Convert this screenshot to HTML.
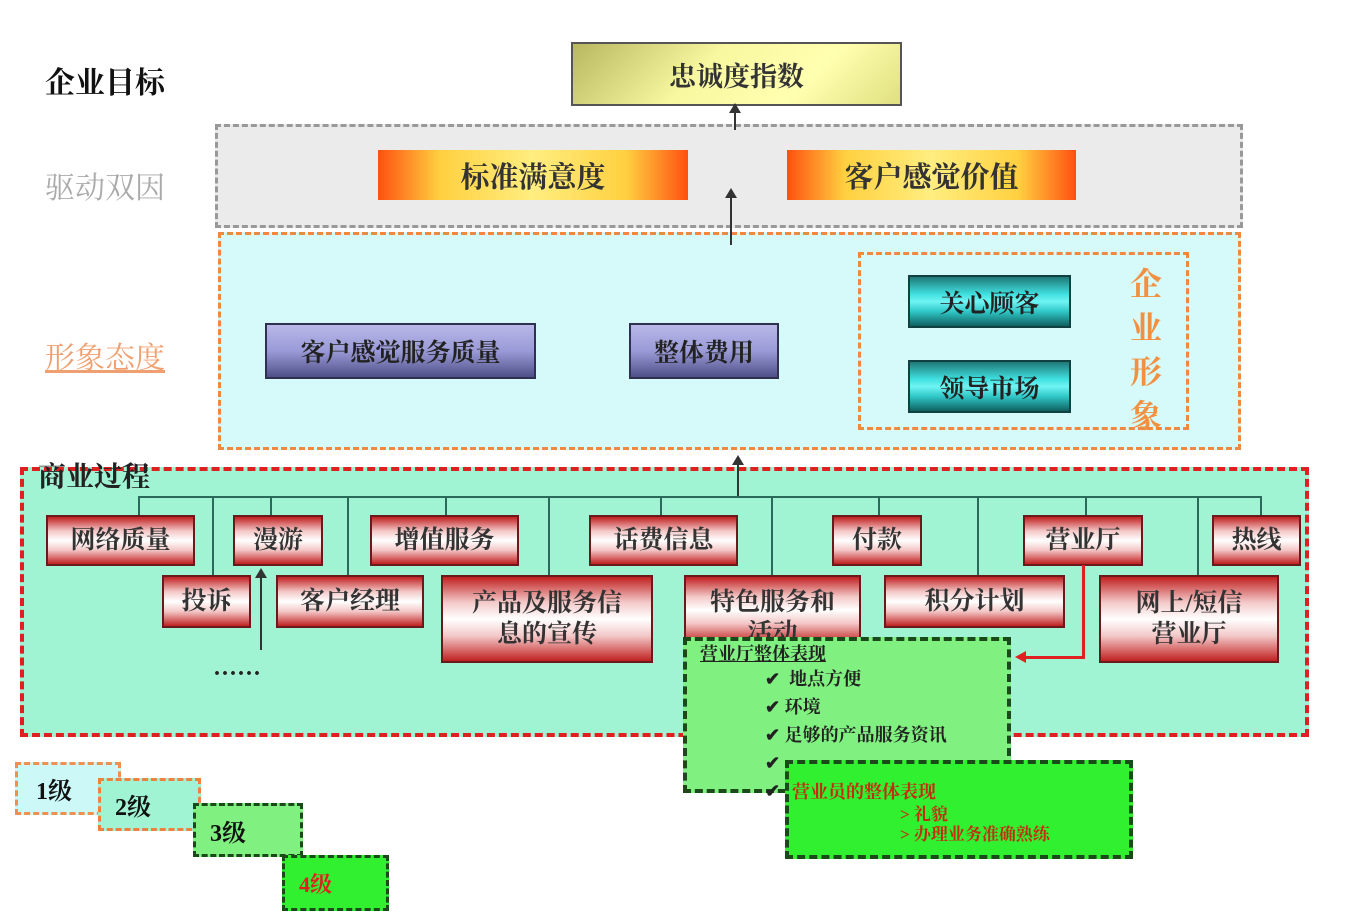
<!DOCTYPE html>
<html><head><meta charset="utf-8"><style>
body{margin:0;width:1351px;height:923px;background:#fff;position:relative;overflow:hidden;font-family:"Liberation Serif","Noto Serif CJK SC",serif}
div{position:absolute;box-sizing:border-box}
.c{display:flex;align-items:center;justify-content:center;text-align:center}
.red{background:linear-gradient(#c02020 0%,#f4c8c8 30%,#fff 50%,#f4c8c8 70%,#c02020 100%);border:2px solid #6a1a1a;font-size:25px;color:#333;font-weight:bold;line-height:1.25}
.teal{background:linear-gradient(#207878,#40e0e0 35%,#70f4f4 50%,#30c8c8 70%,#106060);border:2px solid #104040;font-size:25px;color:#222;font-weight:bold}
.pur{background:linear-gradient(#b8b8e8,#9a9ad8 50%,#505088);border:2px solid #303050;font-size:25px;color:#222;font-weight:bold}
.org{background:linear-gradient(90deg,#ff5010,#ffd040 20%,#ffee80 50%,#ffd040 80%,#ff5010);font-size:29px;color:#333;font-weight:bold}
.lbl{font-size:30px;font-weight:bold}
.v{background:#333;width:2px}
.h{background:#333;height:2px}
</style></head><body>
<div class="lbl" style="left:45px;top:58px;color:#111">企业目标</div>
<div class="lbl" style="left:45px;top:163px;color:#aaa;font-weight:normal">驱动双因</div>
<div class="lbl" style="left:45px;top:333px;color:#f0a070;font-weight:normal;text-decoration:underline">形象态度</div>

<div class="c" style="left:571px;top:42px;width:331px;height:64px;background:linear-gradient(135deg,#b8b860,#f8f8a0 40%,#ffffb0 70%,#e0e080);border:2px solid #555;font-size:27px;font-weight:bold;color:#333">忠诚度指数</div>

<div style="left:215px;top:124px;width:1028px;height:104px;background:#ebebeb;border:3px dashed #999"></div>
<div class="c org" style="left:378px;top:150px;width:310px;height:50px">标准满意度</div>
<div class="c org" style="left:787px;top:150px;width:289px;height:50px">客户感觉价值</div>

<div style="left:218px;top:232px;width:1023px;height:218px;background:#d6fafa;border:3px dashed #f08840"></div>
<div class="c pur" style="left:265px;top:323px;width:271px;height:56px">客户感觉服务质量</div>
<div class="c pur" style="left:629px;top:323px;width:150px;height:56px">整体费用</div>
<div style="left:858px;top:252px;width:331px;height:178px;border:3px dashed #f08840"></div>
<div class="c teal" style="left:908px;top:275px;width:163px;height:53px">关心顾客</div>
<div class="c teal" style="left:908px;top:360px;width:163px;height:53px">领导市场</div>
<div style="left:1130px;top:262px;width:36px;font-size:32px;line-height:44px;color:#f09040;font-weight:bold">企业形象</div>

<div class="v" style="left:734px;top:110px;height:20px"></div>
<div class="v" style="left:730px;top:195px;height:50px"></div>
<div style="left:725px;top:188px;border-left:6px solid transparent;border-right:6px solid transparent;border-bottom:10px solid #333"></div>
<div style="left:729px;top:103px;border-left:6px solid transparent;border-right:6px solid transparent;border-bottom:10px solid #333"></div>

<div style="left:20px;top:467px;width:1289px;height:270px;background:#a0f4d4;border:4px dashed #e02020"></div>
<div class="lbl" style="left:38px;top:455px;color:#222;font-size:28px">商业过程</div>
<div class="v" style="left:737px;top:460px;height:38px"></div>
<div style="left:732px;top:455px;border-left:6px solid transparent;border-right:6px solid transparent;border-bottom:10px solid #333"></div>
<div class="h" style="left:138px;top:496px;width:1123px;background:#2a6a5a"></div>
<div class="v" style="left:138px;top:496px;height:20px;background:#2a6a5a"></div>
<div class="v" style="left:212px;top:496px;height:80px;background:#2a6a5a"></div>
<div class="v" style="left:270px;top:496px;height:20px;background:#2a6a5a"></div>
<div class="v" style="left:347px;top:496px;height:80px;background:#2a6a5a"></div>
<div class="v" style="left:445px;top:496px;height:20px;background:#2a6a5a"></div>
<div class="v" style="left:548px;top:496px;height:80px;background:#2a6a5a"></div>
<div class="v" style="left:660px;top:496px;height:20px;background:#2a6a5a"></div>
<div class="v" style="left:771px;top:496px;height:80px;background:#2a6a5a"></div>
<div class="v" style="left:878px;top:496px;height:20px;background:#2a6a5a"></div>
<div class="v" style="left:977px;top:496px;height:80px;background:#2a6a5a"></div>
<div class="v" style="left:1085px;top:496px;height:20px;background:#2a6a5a"></div>
<div class="v" style="left:1197px;top:496px;height:80px;background:#2a6a5a"></div>
<div class="v" style="left:1260px;top:496px;height:20px;background:#2a6a5a"></div>

<div class="c red" style="left:46px;top:515px;width:149px;height:51px">网络质量</div>
<div class="c red" style="left:233px;top:515px;width:90px;height:51px">漫游</div>
<div class="c red" style="left:370px;top:515px;width:149px;height:51px">增值服务</div>
<div class="c red" style="left:589px;top:515px;width:149px;height:51px">话费信息</div>
<div class="c red" style="left:832px;top:515px;width:90px;height:51px">付款</div>
<div class="c red" style="left:1023px;top:515px;width:120px;height:51px">营业厅</div>
<div class="c red" style="left:1212px;top:515px;width:89px;height:51px">热线</div>
<div class="c red" style="left:162px;top:575px;width:89px;height:53px">投诉</div>
<div class="c red" style="left:276px;top:575px;width:148px;height:53px">客户经理</div>
<div class="c red" style="left:441px;top:575px;width:212px;height:88px">产品及服务信<br>息的宣传</div>
<div class="c red" style="left:684px;top:575px;width:177px;height:70px;align-items:flex-start;padding-top:10px">特色服务和<br>活动</div>
<div class="c red" style="left:884px;top:575px;width:181px;height:53px">积分计划</div>
<div class="c red" style="left:1099px;top:575px;width:180px;height:88px">网上/短信<br>营业厅</div>

<div class="v" style="left:260px;top:578px;height:72px"></div>
<div style="left:255px;top:568px;border-left:6px solid transparent;border-right:6px solid transparent;border-bottom:10px solid #333"></div>
<div style="left:214px;top:655px;font-size:24px;font-weight:bold;letter-spacing:2px;color:#222">......</div>

<div style="left:1082px;top:565px;width:3px;height:94px;background:#e02020"></div>
<div style="left:1025px;top:656px;width:60px;height:3px;background:#e02020"></div>
<div style="left:1015px;top:651px;border-top:6px solid transparent;border-bottom:6px solid transparent;border-right:11px solid #e02020"></div>

<div style="left:683px;top:637px;width:328px;height:156px;background:#80f080;border:4px dashed #1a4a1a"></div>
<div style="left:700px;top:640px;font-size:18px;font-weight:bold;text-decoration:underline;color:#222">营业厅整体表现</div>
<div style="left:765px;top:665px;font-size:18px;line-height:28px;font-weight:bold;color:#222">✔ &nbsp;地点方便<br>✔ 环境<br>✔ 足够的产品服务资讯<br>✔<br>✔</div>
<div style="left:785px;top:760px;width:348px;height:99px;background:#30f030;border:4px dashed #1a4a1a"></div>
<div style="left:792px;top:778px;font-size:18px;font-weight:bold;color:#c03010">营业员的整体表现</div>
<div style="left:900px;top:805px;font-size:17px;line-height:20px;font-weight:bold;color:#c03010">&gt; 礼貌<br>&gt; 办理业务准确熟练</div>

<div class="c" style="left:15px;top:762px;width:106px;height:53px;background:#ccf8f8;border:3px dashed #f09050;font-size:24px;font-weight:bold;color:#111;justify-content:flex-start;padding-left:18px">1级</div>
<div class="c" style="left:98px;top:778px;width:103px;height:53px;background:#a0f4d4;border:3px dashed #f08040;font-size:24px;font-weight:bold;color:#111;justify-content:flex-start;padding-left:14px">2级</div>
<div class="c" style="left:193px;top:803px;width:110px;height:54px;background:#80f080;border:3px dashed #1a4a1a;font-size:24px;font-weight:bold;color:#111;justify-content:flex-start;padding-left:14px">3级</div>
<div class="c" style="left:282px;top:855px;width:107px;height:56px;background:#30f030;border:3px dashed #1a4a1a;font-size:22px;font-weight:bold;color:#e02020;justify-content:flex-start;padding-left:14px">4级</div>
</body></html>
